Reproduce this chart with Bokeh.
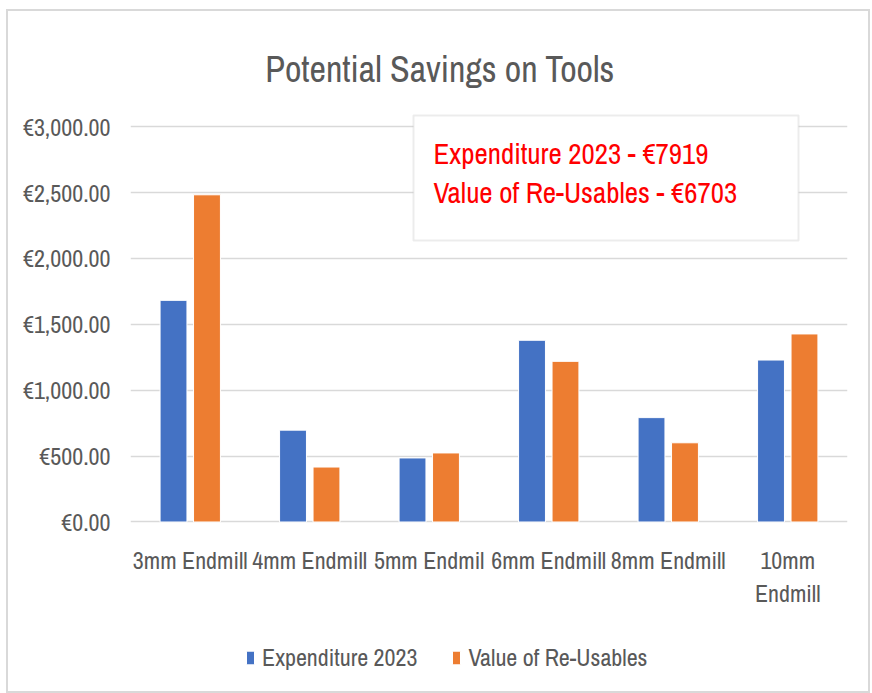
from bokeh.plotting import figure
from bokeh.models import (ColumnDataSource, Range1d, FixedTicker, Label,
                          BoxAnnotation, Legend, LegendItem)
from bokeh.core.properties import value
from bokeh.transform import dodge
from bokeh.embed import file_html
from bokeh.resources import INLINE

categories = ["3mm Endmill", "4mm Endmill", "5mm Endmil", "6mm Endmill", "8mm Endmill", "10mm Endmill"]
x_tick_labels = ["3mm Endmill", "4mm Endmill", "5mm Endmil", "6mm Endmill", "8mm Endmill", "10mm\nEndmill"]
expenditure_2023 = [1682, 697, 486, 1379, 792, 1229]
value_reusables = [2483, 417, 524, 1219, 601, 1427]
y_ticks = [0, 500, 1000, 1500, 2000, 2500, 3000]
y_tick_labels = ["€0.00", "€500.00", "€1,000.00", "€1,500.00", "€2,000.00", "€2,500.00", "€3,000.00"]
title_text = "Potential Savings on Tools"
note_lines = ["Expenditure 2023 - €7919", "Value of Re-Usables - €6703"]
series_names = ["Expenditure 2023", "Value of Re-Usables"]

FONT = "Archivo Narrow"
GREY = "#595959"

W, H = 860, 680
OX, OY = 8, 15               # observed page position of the canvas
LEFT = 130 - OX
RIGHT = W - (847 - OX) + 4
ZERO_FROM_TOP = 522.5 - OY   # canvas px from top to the zero line
PX_3000 = 393.0              # px between 0 and 3000
scale = 3000 / PX_3000
p = figure(width=W, height=H, x_range=Range1d(0, len(categories)),
           y_range=Range1d(-(H - ZERO_FROM_TOP) * scale, ZERO_FROM_TOP * scale),
           output_backend="svg", toolbar_location=None,
           min_border_left=LEFT, min_border_right=RIGHT, min_border_top=0, min_border_bottom=0)
p.outline_line_color = None
p.background_fill_color = "white"
p.border_fill_color = "white"
p.styles = {"border": "2px solid #d9d9d9", "box-sizing": "content-box", "margin": "9px 0 0 6px"}

xpos = [i + 0.5 for i in range(len(categories))]
src = ColumnDataSource(dict(x=xpos, cats=categories, lab=x_tick_labels,
                            exp=expenditure_2023, reuse=value_reusables))
r1 = p.vbar(x=dodge("x", -0.14), top="exp", width=0.225, source=src,
            fill_color="#4472C4", line_color="white", line_width=1)
r2 = p.vbar(x=dodge("x", 0.14), top="reuse", width=0.225, source=src,
            fill_color="#ED7D31", line_color="white", line_width=1)

# category labels under the zero line
p.text(x="x", y=-22 * scale, text="lab", source=src, text_align="center", text_baseline="top",
       text_font=value(FONT), text_font_size="24px", text_color=GREY, text_line_height=1.03)

p.xaxis.visible = False

p.yaxis.ticker = FixedTicker(ticks=y_ticks)
p.yaxis.major_label_overrides = {t: l for t, l in zip(y_ticks, y_tick_labels)}
p.yaxis.axis_line_color = None
p.yaxis.major_tick_line_color = None
p.yaxis.major_tick_out = 0
p.yaxis.major_tick_in = 0
p.yaxis.minor_tick_line_color = None
p.yaxis.major_label_standoff = 20
p.yaxis.major_label_text_font = FONT
p.yaxis.major_label_text_font_size = "24px"
p.yaxis.major_label_text_color = GREY

p.xgrid.grid_line_color = None
p.ygrid.grid_line_color = "#d9d9d9"
p.ygrid.grid_line_width = 1.5
p.ygrid.ticker = FixedTicker(ticks=y_ticks)


def sy(page_y):
    return H - (page_y - OY)


def sx(page_x):
    return page_x - 130


# title
p.add_layout(Label(x=sx(439.5), y=sy(68), x_units="screen", y_units="screen", text=title_text,
                   text_align="center", text_baseline="middle", text_font=FONT,
                   text_font_size="36px", text_color=GREY))

# annotation box
p.add_layout(BoxAnnotation(left=sx(413), right=sx(798), top=sy(115), bottom=sy(240),
                           left_units="screen", right_units="screen", top_units="screen", bottom_units="screen",
                           fill_color="white", fill_alpha=1, line_color="#bfbfbf", line_width=2,
                           level="annotation"))
for i, t in enumerate(note_lines):
    p.add_layout(Label(x=sx(433), y=sy(153 + 39 * i), x_units="screen", y_units="screen", text=t,
                       text_align="left", text_baseline="middle", text_font=FONT,
                       text_font_size="29px", text_color="#ff0000"))

# legend
legend = Legend(items=[LegendItem(label=series_names[0], renderers=[r1]),
                       LegendItem(label=series_names[1], renderers=[r2])],
                location=(sx(245), sy(673)), orientation="horizontal",
                glyph_width=10, glyph_height=17, label_standoff=7, spacing=34,
                padding=0, margin=0, border_line_color=None, background_fill_alpha=0,
                label_text_font=FONT, label_text_font_size="24px", label_text_color=GREY,
                label_height=24)
p.add_layout(legend, "center")

open("out.html", "w").write(file_html(p, INLINE))
